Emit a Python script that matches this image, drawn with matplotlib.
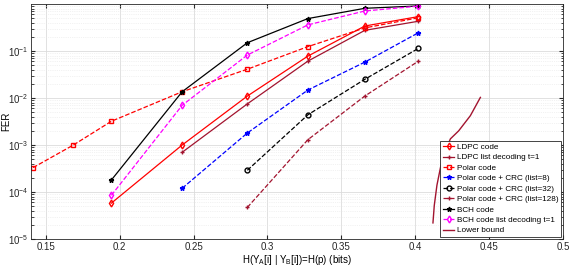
import numpy as np
import matplotlib
matplotlib.use("Agg")
import matplotlib.pyplot as plt

plt.rcParams['font.family'] = ['Liberation Sans', 'DejaVu Sans']

# === data: H(p) for p = 0.02 ... 0.08 ===
h_all = [0.1414, 0.1687, 0.1944, 0.2423, 0.2864, 0.3274, 0.3659, 0.4022]

ldpc_x = [0.1944, 0.2423, 0.2864, 0.3274, 0.3659, 0.4022]
ldpc_fer = [5.8e-5, 1.0e-3, 0.011, 0.078, 0.34, 0.54]

ldpc_list_x = [0.2423, 0.2864, 0.3274, 0.3659, 0.4022]
ldpc_list_fer = [7.0e-4, 7.5e-3, 0.061, 0.275, 0.43]

polar_x = h_all
polar_fer = [3.3e-4, 1.0e-3, 3.2e-3, 0.0136, 0.041, 0.124, 0.31, 0.51]

crc8_x = [0.2423, 0.2864, 0.3274, 0.3659, 0.4022]
crc8_fer = [1.2e-4, 1.8e-3, 0.0148, 0.058, 0.245]

crc32_x = [0.2864, 0.3274, 0.3659, 0.4022]
crc32_fer = [2.9e-4, 4.4e-3, 0.025, 0.114]

crc128_x = [0.2864, 0.3274, 0.3659, 0.4022]
crc128_fer = [4.7e-5, 1.3e-3, 0.011, 0.061]

bch_x = [0.1944, 0.2423, 0.2864, 0.3274, 0.3659, 0.4022]
bch_fer = [1.8e-4, 0.0136, 0.15, 0.49, 0.81, 0.91]

bch_list_x = [0.1944, 0.2423, 0.2864, 0.3274, 0.3659, 0.4022]
bch_list_fer = [8.5e-5, 7.0e-3, 0.082, 0.36, 0.71, 0.90]

lb_x = [0.4120, 0.4129, 0.4147, 0.4174, 0.4204, 0.4238, 0.4294, 0.4373, 0.4441]
lb_fer = [2.2e-5, 5.2e-5, 1.4e-4, 3.7e-4, 7.6e-4, 1.35e-3, 2.0e-3, 4.2e-3, 1.03e-2]

dark_red = (0.635, 0.078, 0.184)

fig = plt.figure(figsize=(5.74, 2.71), dpi=100)
ax = fig.add_axes([31 / 574, 1 - 239 / 271, 532 / 574, 235 / 271])

lw = 0.9
ms = 3.5
ax.semilogy(ldpc_x, ldpc_fer, '-', color='red', marker='d', mfc='none', ms=ms, lw=lw, label='LDPC code')
ax.semilogy(ldpc_list_x, ldpc_list_fer, '-', color=dark_red, marker='+', ms=ms, lw=lw, label='LDPC list decoding t=1')
ax.semilogy(polar_x, polar_fer, '--', color='red', marker='s', mfc='none', ms=3, lw=lw, label='Polar code')
ax.semilogy(crc8_x, crc8_fer, '--', color='blue', marker='*', ms=ms, lw=lw, label='Polar code + CRC (list=8)')
ax.semilogy(crc32_x, crc32_fer, '--', color='black', marker='o', mfc='none', ms=ms, lw=lw, label='Polar code + CRC (list=32)')
ax.semilogy(crc128_x, crc128_fer, '--', color=dark_red, marker='+', ms=ms, lw=lw, label='Polar code + CRC (list=128)')
ax.semilogy(bch_x, bch_fer, '-', color='black', marker='*', ms=ms, lw=lw, label='BCH code')
ax.semilogy(bch_list_x, bch_list_fer, '--', color='magenta', marker='d', mfc='none', ms=ms, lw=lw, label='BCH code list decoding t=1')
ax.semilogy(lb_x, lb_fer, '-', color=dark_red, lw=1.0, label='Lower bound')

ax.set_xlim(0.14, 0.5)
ax.set_ylim(1e-5, 1)
ax.set_xticks([0.15, 0.2, 0.25, 0.3, 0.35, 0.4, 0.45, 0.5])
ax.set_xticklabels(['0.15', '0.2', '0.25', '0.3', '0.35', '0.4', '0.45', '0.5'])
ax.set_yticks([1e-5, 1e-4, 1e-3, 1e-2, 1e-1])

ax.grid(True, which='major', color='#dcdcdc', lw=0.6)
ax.grid(True, which='minor', color='#e6e6e6', lw=0.5, ls=':')
ax.set_axisbelow(True)
ax.tick_params(which='both', direction='in', top=True, right=True, labelsize=7, colors='#262626', length=3, pad=2)
ax.tick_params(which='minor', length=1.8)
for s in ax.spines.values():
    s.set_color('#262626')
    s.set_linewidth(0.6)

ax.set_xlabel('H(Y$_\\mathregular{A}$[i] | Y$_\\mathregular{B}$[i])=H(p) (bits)', fontsize=7, labelpad=1)
ax.set_ylabel('FER', fontsize=7)
ax.yaxis.set_label_coords(-0.0375, 0.5)

leg = ax.legend(loc='lower right', fontsize=5.9, handlelength=1.4, handletextpad=0.3,
                labelspacing=0.33, borderpad=0.3, borderaxespad=0.25, fancybox=False,
                framealpha=1, edgecolor='#262626')
leg.get_frame().set_linewidth(0.6)

fig.savefig('out.png', dpi=100)
